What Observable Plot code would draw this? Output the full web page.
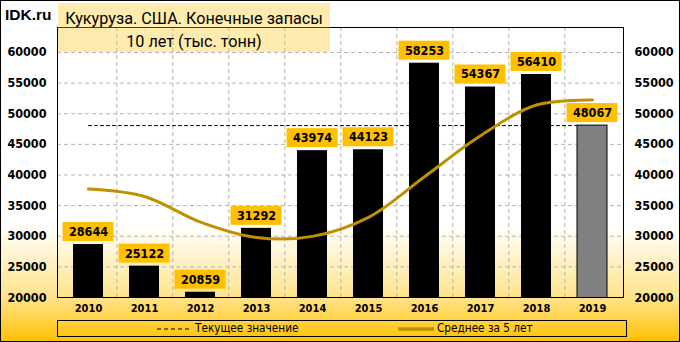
<!DOCTYPE html>
<html><head><meta charset="utf-8">
<script src="https://cdn.jsdelivr.net/npm/d3@7"></script>
<script src="https://cdn.jsdelivr.net/npm/@observablehq/plot@0.6"></script>
<style>
html,body{margin:0;padding:0;background:#fff;}
#wrap{position:relative;width:680px;height:342px;overflow:hidden;
  background:linear-gradient(to bottom,#ffffff 0%,#ffffff 66%,#FFE38A 87%,#FFC000 100%);}
#wrap svg.plot{position:absolute;left:0;top:0;}
#border{position:absolute;left:0;top:0;width:680px;height:342px;box-sizing:border-box;border:1px solid #000;pointer-events:none;}
#logo{position:absolute;left:5px;top:6px;font:bold 15.5px "Liberation Sans",Arial,sans-serif;color:#000;line-height:18px;}
#titlebox{position:absolute;left:58px;top:3px;width:272px;height:49px;background:rgba(255,192,0,0.32);}
.tline{position:absolute;left:0;width:272px;text-align:center;font-family:Roboto,"Noto Sans",sans-serif;font-size:16.2px;color:#000;white-space:nowrap;line-height:18px;}
#legend{position:absolute;left:57px;top:320px;width:570px;height:17px;box-sizing:border-box;border:1px solid #000;}
.ltext{position:absolute;top:321px;font-family:"DejaVu Sans Condensed","DejaVu Sans",sans-serif;font-size:11.7px;line-height:15px;color:#000;white-space:nowrap;}
.lsym{position:absolute;}
</style>
</head><body>
<div id="wrap">
  <div id="chart"></div>
  <div id="titlebox">
    <div class="tline" id="t1" style="top:7px"></div>
    <div class="tline" id="t2" style="top:30px"></div>
  </div>
  <div id="logo"></div>
  <div id="legend"></div>
  <svg class="lsym" style="left:155px;top:326px" width="38" height="6"><line x1="2" y1="3" x2="36" y2="3" stroke="#000" stroke-width="1" stroke-dasharray="4,3"/></svg>
  <div class="ltext" id="l1" style="left:195px"></div>
  <svg class="lsym" style="left:396px;top:325px" width="40" height="8"><line x1="2" y1="4" x2="38" y2="4" stroke="#BF9000" stroke-width="3.5"/></svg>
  <div class="ltext" id="l2" style="left:437px"></div>
  <div id="border"></div>
</div>
<script>
// ---- data ----
const logoText = "IDK.ru";
const title1 = "Кукуруза. США. Конечные запасы";
const title2 = "10 лет (тыс. тонн)";
const legendCurrent = "Текущее значение";
const legendAvg = "Среднее за 5 лет";
const years = ["2010","2011","2012","2013","2014","2015","2016","2017","2018","2019"];
const stocks = [28644, 25122, 20859, 31292, 43974, 44123, 58253, 54367, 56410, 48067];
const avg5 = [37700, 36500, 32300, 29800, 29980, 33070, 39700, 46400, 51430, 52240];
const currentValue = 48067;
const yTicks = [20000, 25000, 30000, 35000, 40000, 45000, 50000, 55000, 60000];

document.getElementById("logo").textContent = logoText;
document.getElementById("t1").textContent = title1;
document.getElementById("t2").textContent = title2;
document.getElementById("l1").textContent = legendCurrent;
document.getElementById("l2").textContent = legendAvg;

const data = years.map((y, i) => ({year: y, stock: stocks[i], avg: avg5[i], cur: currentValue, last: i === years.length - 1}));
const font = "'DejaVu Sans Condensed','DejaVu Sans',sans-serif";
const gridStyle = {stroke: "#b4b4b4", strokeOpacity: 1, strokeDasharray: "4,3", strokeWidth: 1};
const step = (680 - 57 - 57) / years.length;

const chart = Plot.plot({
  width: 680, height: 342,
  marginLeft: 57, marginRight: 57, marginTop: 27, marginBottom: 45,
  style: {background: "transparent", fontFamily: font, overflow: "visible"},
  x: {domain: years, paddingInner: 0.47, paddingOuter: 0.235, axis: null},
  y: {domain: [20000, 64080], axis: null},
  marks: [
    Plot.gridY(yTicks.slice(1), gridStyle),
    Plot.ruleX(years.slice(0, -1), {...gridStyle, dx: step / 2}),
    Plot.line(data, {x: "year", y: "cur", stroke: "#000", strokeWidth: 1, strokeDasharray: "3,3"}),
    Plot.barY(data, {filter: d => !d.last, x: "year", y: "stock", fill: "#000", clip: true}),
    Plot.barY(data, {filter: d => d.last, x: "year", y: "stock", fill: "#808080", stroke: "#000", strokeWidth: 1, clip: true}),
    Plot.line(data, {x: "year", y: "avg", curve: "catmull-rom", stroke: "#BF9000", strokeWidth: 3}),
    Plot.barY(data, {x: "year", y1: "stock", y2: "stock", insetTop: -22, insetBottom: 3, insetLeft: -10.5, insetRight: -10.5, fill: "#FFC000"}),
    Plot.text(data, {x: "year", y: "stock", dy: -12.5, text: d => String(d.stock), fontSize: 12.5, fontWeight: "bold", fill: "#000"}),
    Plot.frame({stroke: "#000", strokeWidth: 1}),
    Plot.axisY(yTicks, {anchor: "left", tickSize: 0, tickPadding: 11, tickFormat: d => String(d), fontSize: 12.5, fontWeight: "bold", fill: "#000", label: null}),
    Plot.axisY(yTicks, {anchor: "right", tickSize: 0, tickPadding: 11, tickFormat: d => String(d), fontSize: 12.5, fontWeight: "bold", fill: "#000", label: null}),
    Plot.axisX({tickSize: 0, tickPadding: 7, fontSize: 11, fontWeight: "bold", fill: "#000", label: null})
  ]
});
document.getElementById("chart").appendChild(chart);
</script>
</body></html>
